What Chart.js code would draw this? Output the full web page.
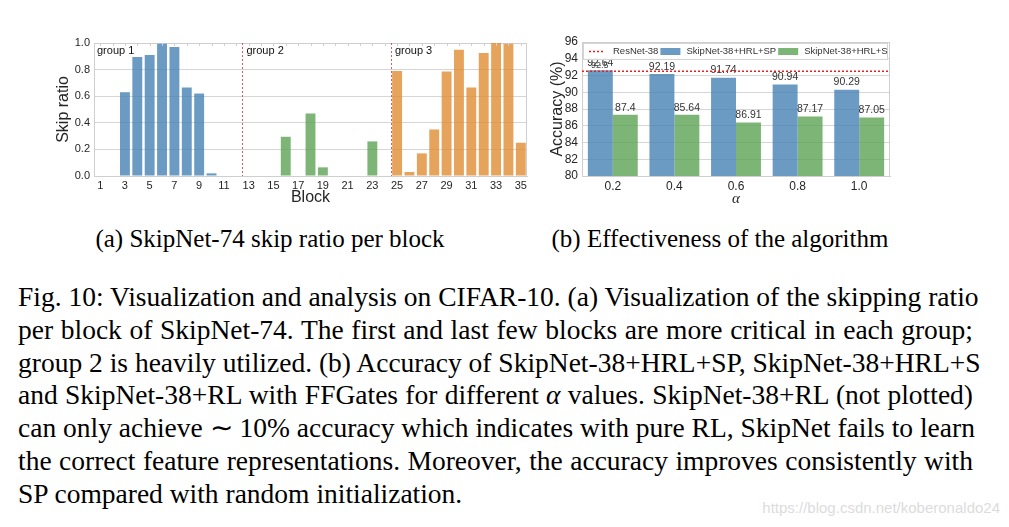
<!DOCTYPE html>
<html><head><meta charset="utf-8">
<script src="https://cdn.jsdelivr.net/npm/chart.js@4.4.0/dist/chart.umd.min.js"></script>
<style>
html,body{margin:0;padding:0;background:#fff;}
#page{position:relative;width:1009px;height:527px;overflow:hidden;background:#fff;}
#cA{position:absolute;left:0;top:0;}
#cB{position:absolute;left:545px;top:0;}
.sub{position:absolute;top:224px;font-family:"Liberation Serif","Times New Roman",serif;font-size:25px;line-height:30px;color:#000;white-space:nowrap;transform:translateX(-50%);}
#caption{position:absolute;left:18px;top:281px;width:955px;font-family:"Liberation Serif","Times New Roman",serif;font-size:27.5px;line-height:32.8px;color:#000;}
.ln{text-align:justify;text-align-last:justify;white-space:nowrap;}
.ln.last{text-align:left;text-align-last:left;}
#wm{position:absolute;right:9px;top:499px;font-family:"Liberation Sans",Arial,sans-serif;font-size:15px;color:#dcdcdc;white-space:nowrap;}
</style></head>
<body>
<div id="page">
<canvas id="cA" width="545" height="215"></canvas>
<canvas id="cB" width="464" height="215"></canvas>
<div class="sub" style="left:270px">(a) SkipNet-74 skip ratio per block</div>
<div class="sub" style="left:720px">(b) Effectiveness of the algorithm</div>
<div id="caption">
<div class="ln">Fig. 10: Visualization and analysis on CIFAR-10. (a) Visualization of the skipping ratio</div>
<div class="ln">per block of SkipNet-74. The first and last few blocks are more critical in each group;</div>
<div class="ln">group 2 is heavily utilized. (b) Accuracy of SkipNet-38+HRL+SP, SkipNet-38+HRL+S</div>
<div class="ln">and SkipNet-38+RL with FFGates for different <i>α</i> values. SkipNet-38+RL (not plotted)</div>
<div class="ln">can only achieve ∼ 10% accuracy which indicates with pure RL, SkipNet fails to learn</div>
<div class="ln">the correct feature representations. Moreover, the accuracy improves consistently with</div>
<div class="ln last">SP compared with random initialization.</div>
</div>
<div id="wm">https://blog.csdn.net/koberonaldo24</div>
</div>
<script>
// ---------- Data: chart (a) ----------
const blocks = [1,2,3,4,5,6,7,8,9,10,11,12,13,14,15,16,17,18,19,20,21,22,23,24,25,26,27,28,29,30,31,32,33,34,35];
const skipRatio = [0,0,0.63,0.895,0.91,0.995,0.97,0.665,0.62,0.02,0,0,
                   0,0,0,0.295,0,0.47,0.065,0,0,0,0.26,0,
                   0.79,0.03,0.17,0.35,0.785,0.95,0.665,0.925,1.0,0.995,0.25];
const blockTickLabels = [1,3,5,7,9,11,13,15,17,19,21,23,25,27,29,31,33,35];
const skipTicks = [0,0.2,0.4,0.6,0.8,1.0];
const groupNames = ['group 1','group 2','group 3'];
const groupStartBlocks = [1,13,25];

// ---------- Data: chart (b) ----------
const alphas = ['0.2','0.4','0.6','0.8','1.0'];
const seriesNames = ['SkipNet-38+HRL+SP','SkipNet-38+HRL+S'];
const hrlSP = [92.64,92.19,91.74,90.94,90.29];
const hrlS = [87.3,87.3,86.4,87.1,87.0];
const hrlSPLabels = ['92.64','92.19','91.74','90.94','90.29'];
const hrlSLabels = ['87.4','85.64','86.91','87.17','87.05'];
const refName = 'ResNet-38';
const refValue = 92.5;
const refLabel = '92.5';
const accTicks = [80,82,84,86,88,90,92,94,96];

// ---------- Styles ----------
const BLUE = 'rgba(70,130,180,0.8)';
const GREEN = 'rgba(92,162,84,0.8)';
const ORANGE = 'rgba(224,140,51,0.8)';
const groupColors = [BLUE, GREEN, ORANGE];
const FRAME = '#cfcfcf';
const GRID = '#d6d6d6';
const TXT = '#262626';
const SANS = '"Liberation Sans", Arial, sans-serif';

function groupIndex(b){ let g = 0; groupStartBlocks.forEach((s,i)=>{ if(b>=s) g=i; }); return g; }

function drawFrame(chart){
  const {ctx, chartArea:a} = chart;
  ctx.save();
  ctx.strokeStyle = FRAME; ctx.lineWidth = 1;
  ctx.strokeRect(Math.round(a.left)+0.5, Math.round(a.top)+0.5, Math.round(a.right-a.left)-1, Math.round(a.bottom-a.top));
  ctx.restore();
}

// ---------- Chart (a) ----------
const groupPlugin = {
  id:'groupPlugin',
  beforeDatasetsDraw(chart){ drawFrame(chart); },
  afterDatasetsDraw(chart){
    const {ctx, chartArea:a, scales:{x}} = chart;
    ctx.save();
    ctx.strokeStyle = FRAME; ctx.lineWidth = 1;
    blocks.forEach((b,i)=>{
      const px = Math.round(x.getPixelForValue(i))+0.5;
      ctx.beginPath(); ctx.moveTo(px, a.top); ctx.lineTo(px, a.top+3); ctx.stroke();
    });
    groupStartBlocks.forEach((b,gi)=>{
      const i = blocks.indexOf(b);
      let xp = a.left;
      if (i > 0){
        xp = (x.getPixelForValue(i-1)+x.getPixelForValue(i))/2;
        ctx.strokeStyle = 'rgba(225,70,70,0.9)';
        ctx.setLineDash([2,2]);
        ctx.lineWidth = 1;
        ctx.beginPath(); ctx.moveTo(Math.round(xp)+0.5, a.top); ctx.lineTo(Math.round(xp)+0.5, a.bottom); ctx.stroke();
        ctx.setLineDash([]);
      }
      ctx.fillStyle = '#111';
      ctx.font = '11px ' + SANS;
      ctx.textBaseline = 'top';
      ctx.textAlign = 'left';
      ctx.fillText(groupNames[gi], xp + (i>0?4:3), a.top + 2);
    });
    ctx.restore();
  }
};

new Chart(document.getElementById('cA'), {
  type:'bar',
  data:{
    labels: blocks.map(String),
    datasets:[{
      data: skipRatio,
      backgroundColor: blocks.map(b=>groupColors[groupIndex(b)]),
      borderWidth:0,
      barPercentage:0.8,
      categoryPercentage:1.0
    }]
  },
  options:{
    responsive:false, animation:false,
    layout:{padding:{left:0,right:18,top:43,bottom:0}},
    plugins:{legend:{display:false}, tooltip:{enabled:false}},
    scales:{
      x:{
        grid:{display:false, drawTicks:false},
        border:{color:FRAME},
        ticks:{autoSkip:false, maxRotation:0, color:TXT, font:{size:11, family:SANS}, padding:3,
          callback:(v,i)=> blockTickLabels.includes(blocks[i]) ? String(blocks[i]) : ''},
        title:{display:true, text:'Block', color:TXT, font:{size:16, family:SANS}, padding:{top:0,bottom:8}},
        afterFit:s=>{ s.height = 39; }
      },
      y:{
        min:0, max:1,
        afterBuildTicks:s=>{ s.ticks = skipTicks.map(v=>({value:v})); },
        grid:{color:GRID, drawTicks:false},
        border:{color:FRAME},
        ticks:{autoSkip:false, color:TXT, font:{size:11, family:SANS}, padding:4, callback:v=>Number(v).toFixed(1)},
        title:{display:true, text:'Skip ratio', color:TXT, font:{size:16, family:SANS}, padding:{top:54,bottom:0}},
        afterFit:s=>{ s.width = 94; }
      }
    }
  },
  plugins:[groupPlugin]
});

// ---------- Chart (b) ----------
const accPlugin = {
  id:'accPlugin',
  beforeDatasetsDraw(chart){ drawFrame(chart); },
  afterDatasetsDraw(chart){
    const {ctx, chartArea:a, scales:{y}} = chart;
    ctx.save();
    const labelSets = [hrlSPLabels, hrlSLabels];
    ctx.font = '10.5px ' + SANS; ctx.fillStyle = '#333'; ctx.textAlign='center'; ctx.textBaseline='bottom';
    chart.data.datasets.forEach((ds,di)=>{
      chart.getDatasetMeta(di).data.forEach((bar,i)=>{
        ctx.fillText(labelSets[di][i], bar.x, bar.y - 2);
      });
    });
    const ry = y.getPixelForValue(refValue);
    ctx.strokeStyle = 'rgb(235,30,30)'; ctx.lineWidth = 1.5; ctx.setLineDash([2,2]);
    ctx.beginPath(); ctx.moveTo(a.left, ry); ctx.lineTo(a.right, ry); ctx.stroke();
    ctx.setLineDash([]);
    ctx.font = '9px ' + SANS; ctx.fillStyle = '#444'; ctx.textAlign='left'; ctx.textBaseline='bottom';
    ctx.fillText(refLabel, a.left + 9, ry - 1);
    // legend
    const lx0 = a.left + 1, ly0 = a.top + 1, lh = 16;
    ctx.font = '9.5px ' + SANS;
    const items = [
      {label:refName, type:'line'},
      {label:chart.data.datasets[0].label, type:'box', color:chart.data.datasets[0].backgroundColor},
      {label:chart.data.datasets[1].label, type:'box', color:chart.data.datasets[1].backgroundColor}
    ];
    ctx.fillStyle = 'rgba(255,255,255,0.92)';
    ctx.fillRect(lx0, ly0, a.right - lx0 - 2, lh);
    ctx.strokeStyle = '#d4d4d4'; ctx.lineWidth = 1;
    ctx.strokeRect(lx0+0.5, ly0+0.5, a.right - lx0 - 3, lh);
    let cx = lx0 + 4;
    const cy = ly0 + lh/2 + 0.5;
    items.forEach(it=>{
      if (it.type==='line'){
        ctx.strokeStyle = 'rgb(235,30,30)'; ctx.lineWidth = 1.5; ctx.setLineDash([2,2]);
        ctx.beginPath(); ctx.moveTo(cx+2, cy); ctx.lineTo(cx+18, cy); ctx.stroke(); ctx.setLineDash([]);
      } else {
        ctx.fillStyle = it.color; ctx.fillRect(cx, cy-3.5, 20, 7);
      }
      cx += 26;
      ctx.fillStyle = '#333'; ctx.textBaseline='middle'; ctx.textAlign='left';
      ctx.fillText(it.label, cx, cy);
      cx += ctx.measureText(it.label).width + 2;
    });
    ctx.restore();
  }
};

new Chart(document.getElementById('cB'), {
  type:'bar',
  data:{
    labels: alphas,
    datasets:[
      {label:seriesNames[0], data:hrlSP, backgroundColor:BLUE, borderWidth:0, categoryPercentage:0.81, barPercentage:1.0},
      {label:seriesNames[1], data:hrlS, backgroundColor:GREEN, borderWidth:0, categoryPercentage:0.81, barPercentage:1.0}
    ]
  },
  options:{
    responsive:false, animation:false,
    layout:{padding:{left:0,right:119,top:42,bottom:0}},
    plugins:{legend:{display:false}, tooltip:{enabled:false}},
    scales:{
      x:{
        grid:{display:false, drawTicks:false},
        border:{color:FRAME},
        ticks:{color:TXT, font:{size:12, family:SANS}, padding:3, maxRotation:0},
        title:{display:true, text:'α', color:TXT, font:{size:15, family:'"Liberation Serif", serif', style:'italic'}, padding:{top:0,bottom:7}},
        afterFit:s=>{ s.height = 39; }
      },
      y:{
        min:80, max:96,
        afterBuildTicks:s=>{ s.ticks = accTicks.map(v=>({value:v})); },
        grid:{color:GRID, drawTicks:false},
        border:{color:FRAME},
        ticks:{autoSkip:false, color:TXT, font:{size:12, family:SANS}, padding:4},
        title:{display:true, text:'Accuracy (%)', color:TXT, font:{size:16, family:SANS}, padding:{top:3,bottom:0}},
        afterFit:s=>{ s.width = 37; }
      }
    }
  },
  plugins:[accPlugin]
});
</script>
</body></html>
